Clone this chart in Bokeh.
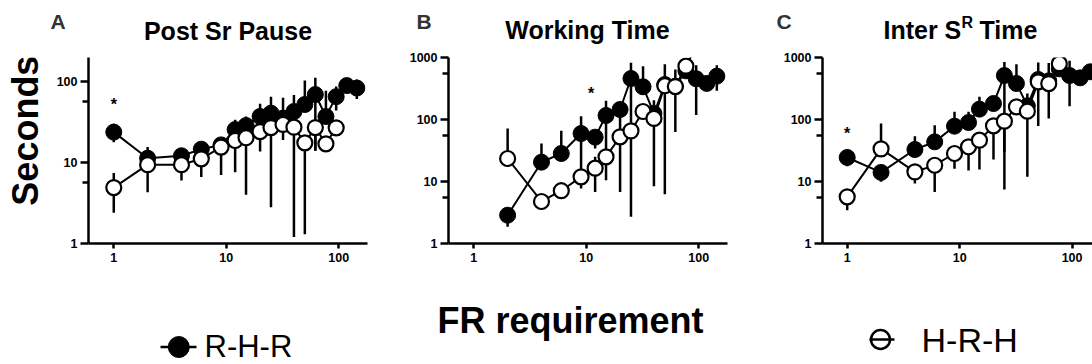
from bokeh.plotting import figure
from bokeh.layouts import column, row
from bokeh.models import Range1d, FixedTicker, NumeralTickFormatter
from bokeh.core.properties import value
from bokeh.embed import file_html
from bokeh.resources import INLINE

FONT_NAME = "Liberation Sans"
FONT = value(FONT_NAME)

# ---------------- data ----------------
fr = [1, 2, 4, 6, 9, 12, 15, 20, 25, 32, 40, 50, 62, 77, 95, 118, 145]

# Panel A: Post Sr Pause
a_rhr_x = fr
a_rhr_y = [23.7, 11.3, 12.1, 14.6, 16.5, 25.5, 28.6, 37, 40.6, 35.3, 42.6, 52, 69, 37, 65, 89, 83]
a_rhr_hi = [30, 15.5, 13.5, 17, 19.6, 33.6, 37, 53, 65, 63, 68, 103, 111, 77, 87, 95, 106]
a_rhr_lo = [17.8, 9.5, 10.5, 12.5, 14, 22, 25, 30, 32, 28, 35, 45, 14, 30, 44, 80, 61]
a_hrh_x = fr[:15]
a_hrh_y = [4.9, 9.4, 9.4, 11.1, 15.5, 18.7, 20.2, 24.1, 27, 29.5, 27.3, 17.5, 27, 17, 26.8]
a_hrh_hi = [7.4, 11, 10.5, 12.5, 17, 21, 23, 27, 30, 32, 30, 20, 30, 19, 29]
a_hrh_lo = [2.4, 4.3, 6.0, 6.6, 7.0, 7.6, 4.0, 13.7, 2.8, 19, 1.2, 1.3, 14, 15, 24]

# Panel B: Working Time
b_rhr_x = fr[1:]
b_rhr_y = [2.86, 20.5, 28.3, 59.4, 51.9, 116, 145, 458, 337, 125, 367, 345, 609, 454, 382, 500]
b_rhr_hi = [3.7, 41, 66, 113, 60, 200, 170, 820, 724, 205, 780, 640, 700, 753, 420, 753]
b_rhr_lo = [1.86, 17, 24, 7.7, 34, 10.5, 6.8, 2.7, 280, 8.4, 6.2, 63, 520, 118, 340, 291]
b_hrh_x = fr[1:15]
b_hrh_y = [23.5, 4.76, 7.1, 11.9, 16.4, 25, 52.6, 65.6, 134.6, 104, 350, 340, 724, 1500]
b_hrh_hi = [71.6, 5.5, 8.2, 14, 25, 30, 60, 75, 150, 120, 400, 380, 800, 1500]
b_hrh_lo = [20, 4, 5.3, 10, 6.8, 21, 45, 55, 115, 90, 300, 290, 650, 1500]

# Panel C: Inter SR Time
c_rhr_x = fr
c_rhr_y = [24.4, 14, 32.8, 43.6, 78, 89.5, 147, 181, 512, 381, 166, 442, 420, 656, 512, 470, 588]
c_rhr_hi = [28, 16, 53.8, 81, 133, 133, 232, 210, 850, 780, 263, 830, 815, 750, 884, 500, 650]
c_rhr_lo = [17.7, 9.9, 28, 38, 68, 78, 130, 160, 7.4, 330, 11.9, 78.5, 104, 600, 164, 430, 540]
c_hrh_x = fr[:15]
c_hrh_y = [5.66, 33.6, 14.3, 18.3, 28.3, 36.3, 46.4, 79, 94, 160, 136, 405, 380, 795, 1400]
c_hrh_hi = [7, 86, 16, 21, 32, 40, 52, 90, 105, 180, 150, 440, 420, 870, 1400]
c_hrh_lo = [3.45, 28, 9.3, 6.8, 16, 15, 15.6, 22.6, 30, 140, 120, 350, 330, 720, 1400]

# significance markers (x, y) per panel
star_a = (1, 51.4)
star_b = (11.07, 265.7)
star_c = (1, 60.1)

titles = ["Post Sr Pause", "Working Time"]
letters = ["A", "B", "C"]
y_ticks_a = [1, 10, 100]
y_ticks_bc = [1, 10, 100, 1000]
x_ticks = [1, 10, 100]
series_names = ["R-H-R", "H-R-H"]


def strip(width, height, top):
    p = figure(width=width, height=height, x_range=Range1d(0, width),
               y_range=Range1d(top + height, top), x_axis_type=None, y_axis_type=None,
               output_backend="svg", toolbar_location=None,
               min_border_left=0, min_border_right=0, min_border_top=0, min_border_bottom=0)
    p.outline_line_color = None
    p.grid.visible = False
    return p


def panel(width, bl, br, xr, yr, yticks, yminor, rhr, hrh, star):
    p = figure(width=width, height=220, x_axis_type="log", y_axis_type="log",
               x_range=Range1d(*xr), y_range=Range1d(*yr),
               output_backend="svg", toolbar_location=None,
               min_border_left=bl, min_border_right=br, min_border_top=7, min_border_bottom=27)
    p.outline_line_color = None
    p.grid.visible = False
    p.xaxis.ticker = FixedTicker(ticks=x_ticks, minor_ticks=[])
    p.yaxis.ticker = FixedTicker(ticks=yticks, minor_ticks=yminor)
    for ax in p.xaxis + p.yaxis:
        ax.formatter = NumeralTickFormatter(format="0")
        ax.axis_line_width = 2.5
        ax.axis_line_color = "black"
        ax.major_tick_line_width = 2.5
        ax.minor_tick_line_width = 2.5
        ax.major_tick_line_color = "black"
        ax.minor_tick_line_color = "black"
        ax.major_tick_in = 0
        ax.minor_tick_in = 0
        ax.major_label_text_font = FONT_NAME
        ax.major_label_text_font_style = "bold"
        ax.major_label_text_font_size = "12.5px"
        ax.major_label_text_color = "black"
    p.xaxis.major_tick_out = 5
    p.xaxis.major_label_standoff = 4
    p.yaxis.major_tick_out = 8
    p.yaxis.minor_tick_out = 6
    p.yaxis.major_label_standoff = 3

    for (x, y, lo, hi), filled in ((rhr, True), (hrh, False)):
        p.segment(x0=x, y0=lo, x1=x, y1=hi, line_width=2.5, line_color="black")
        p.line(x, y, line_width=2, line_color="black")
        if filled:
            p.scatter(x, y, marker="circle", size=16, fill_color="black", line_color="black")
        else:
            p.scatter(x, y, marker="circle", size=15, fill_color="white",
                      line_color="black", line_width=2.2)
    p.text(x=[star[0]], y=[star[1]], text=["*"], text_font=FONT, text_font_style="bold",
           text_font_size="16px", text_align="center", text_baseline="middle",
           text_color="black")
    return p


# ---------------- title strip ----------------
top = strip(1092, 50, 0)
top.text(x=[50, 416, 776], y=[20.7, 20.7, 20.7], text=letters, text_font=FONT,
         text_font_style="bold", text_font_size="21px", text_color="#333333",
         text_align="left", text_baseline="middle")
top.text(x=[227.5, 587], y=[30.8, 29.8], text=titles, text_font=FONT,
         text_font_style="bold", text_font_size="25px", text_color="black",
         text_align="center", text_baseline="middle")
top.text(x=[883, 979], y=[29.8, 29.8], text=["Inter S", "Time"], text_font=FONT,
         text_font_style="bold", text_font_size="25px", text_color="black",
         text_align="left", text_baseline="middle")
top.text(x=[961], y=[22.4], text=["R"], text_font=FONT, text_font_style="bold",
         text_font_size="16px", text_color="black", text_align="left",
         text_baseline="middle")

# ---------------- left strip (y label) ----------------
left = strip(50, 220, 50)
left.text(x=[24.5], y=[136.5], text=["Seconds"], angle=1.5707963, text_font=FONT,
          text_font_style="bold", text_font_size="36px", text_color="black",
          text_align="center", text_baseline="middle")

# ---------------- panels ----------------
pa = panel(350, 38, 33, (0.596, 180.4), (1, 197.8), y_ticks_a, [5.62, 56.2],
           (a_rhr_x, a_rhr_y, a_rhr_lo, a_rhr_hi), (a_hrh_x, a_hrh_y, a_hrh_lo, a_hrh_hi), star_a)
pb = panel(374, 48, 47, (0.596, 180.4), (1, 1000), y_ticks_bc, [5.62, 56.2, 562],
           (b_rhr_x, b_rhr_y, b_rhr_lo, b_rhr_hi), (b_hrh_x, b_hrh_y, b_hrh_lo, b_hrh_hi), star_b)
pc = panel(318, 48, 0, (0.603, 151.9), (1, 1000), y_ticks_bc, [5.62, 56.2, 562],
           (c_rhr_x, c_rhr_y, c_rhr_lo, c_rhr_hi), (c_hrh_x, c_hrh_y, c_hrh_lo, c_hrh_hi), star_c)

# ---------------- bottom strip ----------------
bot = strip(1092, 94, 270)
bot.text(x=[570], y=[319.5], text=["FR requirement"], text_font=FONT, text_font_style="bold",
         text_font_size="36px", text_color="black", text_align="center",
         text_baseline="middle")
# legend: R-H-R (filled)
bot.scatter(x=[178.3], y=[346.5], marker="circle", size=21, fill_color="black", line_color="black")
bot.segment(x0=[160], y0=[346.5], x1=[196], y1=[346.5], line_width=2.5, line_color="black")
# legend: H-R-H (open)
bot.scatter(x=[880], y=[339], marker="circle", size=19, fill_color="white",
            line_color="black", line_width=2.5)
bot.segment(x0=[869], y0=[339], x1=[894], y1=[339], line_width=2.5, line_color="black")
bot.text(x=[204, 921], y=[346, 339.2], text=series_names, text_font=FONT,
         text_font_size=["31px", "34px"], text_color="black", text_align="left",
         text_baseline="middle")

layout = column(top, row(left, pa, pb, pc, spacing=0), bot, spacing=0)

with open("out.html", "w") as f:
    f.write(file_html(layout, INLINE))
